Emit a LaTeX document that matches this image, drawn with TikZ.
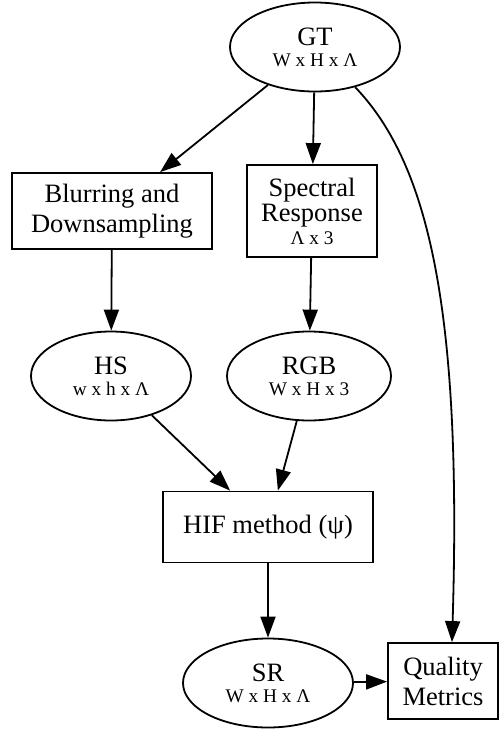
\documentclass[tikz,border=0pt]{standalone}
\usepackage{fontspec}
\setmainfont{Liberation Serif}
\usetikzlibrary{arrows.meta,shapes.geometric}
\newcommand\subl[1]{{\fontsize{19.3}{21}\selectfont #1}}
\begin{document}
\begin{tikzpicture}[x=1pt,y=-1pt,line width=1.8pt,
    every node/.style={align=center,inner sep=0pt,font=\fontsize{26.5}{30}\selectfont},
    data/.style={draw,ellipse,minimum height=89pt},
    proc/.style={draw,rectangle},
    edge/.style={-{Triangle[length=21pt,width=15pt]}}]
  \useasboundingbox (0,0) rectangle (499,729);
  % data nodes
  \node[data,minimum width=170pt] (gt) at (315,47) {GT\\[-9pt]\subl{W x H x Λ}};
  \node[data,minimum width=160pt] (hs) at (111,376) {HS\\[-9pt]\subl{w x h x Λ}};
  \node[data,minimum width=164pt] (rgb) at (309,376) {RGB\\[-9pt]\subl{W x H x 3}};
  \node[data,minimum width=170pt] (sr) at (268,683) {SR\\[-9pt]\subl{W x H x Λ}};
  % processing steps
  \node[proc,minimum width=200pt,minimum height=76pt] (blur) at (112,211) {Blurring and\\Downsampling};
  \node[proc,minimum width=130pt,minimum height=92pt] (spec) at (312,211) {Spectral\\[-5pt]Response\\[-7pt]\subl{Λ x 3}};
  \node[proc,minimum width=210pt,minimum height=71pt] (hif) at (268,527) {HIF method (ψ)};
  \node[proc,minimum width=110pt,minimum height=76pt] (qm) at (443,681) {Quality\\Metrics};
  % connectors
  \foreach \a/\b in {gt/blur, gt/spec, blur/hs, spec/rgb, hs/hif, rgb/hif, hif/sr, sr/qm} {
    \draw[edge] (\a) -- (\b);
  }
  \draw[edge] (gt.-45) .. controls (430,165) and (462,315) .. ([xshift=9pt]qm.north);
\end{tikzpicture}
\end{document}
